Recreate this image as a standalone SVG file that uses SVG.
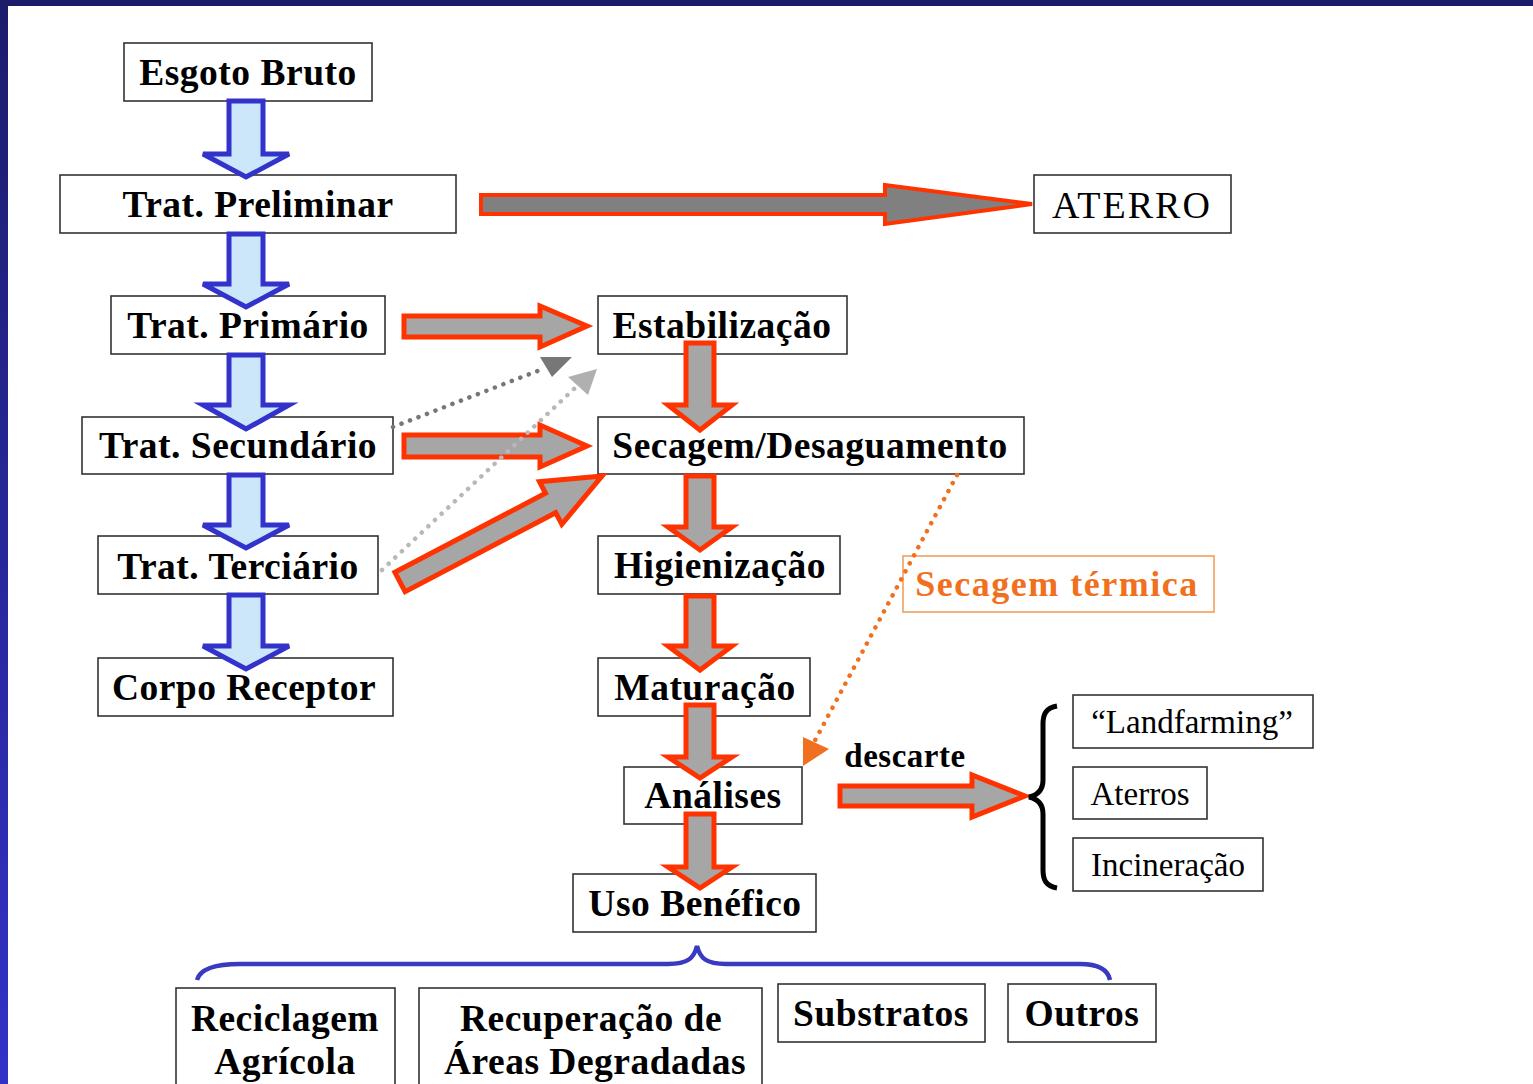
<svg xmlns="http://www.w3.org/2000/svg" width="1533" height="1084" viewBox="0 0 1533 1084">
<defs>
<linearGradient id="lb" x1="0" y1="0" x2="0" y2="1">
<stop offset="0" stop-color="#1c1c6c"/>
<stop offset="1" stop-color="#3232c8"/>
</linearGradient>
<style>
.box{fill:#fff;stroke:#333;stroke-width:1.6}
.t{font-family:"Liberation Serif","Times New Roman",serif;font-size:37.5px;font-weight:bold;fill:#000;text-anchor:middle;letter-spacing:0.5px}
.r{font-family:"Liberation Serif","Times New Roman",serif;font-size:33px;fill:#000;text-anchor:middle}
.blue{fill:#cce6fa;stroke:#3333cc;stroke-width:5;stroke-linejoin:miter}
.red{fill:#a6a6a6;stroke:#ff3300;stroke-width:5;stroke-linejoin:miter}
.dot{fill:none;stroke-width:4.5;stroke-linecap:round;stroke-dasharray:0.1 9}
</style>
</defs>
<rect width="1533" height="1084" fill="#fff"/>
<rect x="0" y="0" width="1533" height="6" fill="#1c1c6c"/>
<rect x="0" y="0" width="8" height="1084" fill="url(#lb)"/>

<g id="esgoto-bruto"><rect class="box" x="124" y="43" width="248" height="58"/><text class="t" x="248" y="85">Esgoto Bruto</text></g>
<g id="trat-preliminar"><rect class="box" x="60" y="175" width="396" height="58"/><text class="t" x="258" y="217">Trat. Preliminar</text></g>
<g id="trat-primario"><rect class="box" x="111" y="296" width="274" height="58"/><text class="t" x="248" y="338">Trat. Primário</text></g>
<g id="trat-secundario"><rect class="box" x="82" y="417" width="311" height="57"/><text class="t" x="238" y="458">Trat. Secundário</text></g>
<g id="trat-terciario"><rect class="box" x="98" y="536" width="280" height="58"/><text class="t" x="238" y="579">Trat. Terciário</text></g>
<g id="corpo-receptor"><rect class="box" x="98" y="658" width="295" height="58"/><text class="t" x="244" y="700">Corpo Receptor</text></g>

<g id="aterro"><rect class="box" x="1034" y="175" width="197" height="58"/><text class="r" x="1132" y="218" style="font-size:38px;letter-spacing:2px">ATERRO</text></g>

<g id="estabilizacao"><rect class="box" x="598" y="296" width="249" height="58"/><text class="t" x="722" y="338">Estabilização</text></g>
<g id="secagem-desaguamento"><rect class="box" x="598" y="417" width="426" height="57"/><text class="t" x="810" y="458">Secagem/Desaguamento</text></g>
<g id="higienizacao"><rect class="box" x="598" y="536" width="242" height="58"/><text class="t" x="720" y="578">Higienização</text></g>
<g id="maturacao"><rect class="box" x="598" y="658" width="212" height="58"/><text class="t" x="705" y="700">Maturação</text></g>
<g id="analises"><rect class="box" x="624" y="767" width="178" height="57"/><text class="t" x="713" y="808">Análises</text></g>
<g id="uso-benefico"><rect class="box" x="573" y="874" width="243" height="58"/><text class="t" x="695" y="916">Uso Benéfico</text></g>

<g id="secagem-termica"><rect x="903" y="556" width="311" height="56" fill="#fff" stroke="#f0a060" stroke-width="1.6"/><text class="t" x="1057" y="596" style="fill:#f07020;font-size:36px;letter-spacing:1.5px">Secagem térmica</text></g>
<g id="descarte"><text class="t" x="905" y="767" style="font-size:33px">descarte</text></g>

<g id="landfarming"><rect class="box" x="1073" y="695" width="240" height="53"/><text class="r" x="1192" y="733">“Landfarming”</text></g>
<g id="aterros"><rect class="box" x="1073" y="767" width="134" height="52"/><text class="r" x="1140" y="805">Aterros</text></g>
<g id="incineracao"><rect class="box" x="1073" y="838" width="190" height="53"/><text class="r" x="1168" y="876">Incineração</text></g>

<g id="reciclagem-agricola"><rect class="box" x="176" y="988" width="219" height="110"/><text class="t" x="285" y="1031">Reciclagem</text><text class="t" x="285" y="1074">Agrícola</text></g>
<g id="recuperacao"><rect class="box" x="419" y="988" width="343" height="110"/><text class="t" x="591" y="1031">Recuperação de</text><text class="t" x="595" y="1074">Áreas Degradadas</text></g>
<g id="substratos"><rect class="box" x="778" y="984" width="207" height="58"/><text class="t" x="881" y="1026">Substratos</text></g>
<g id="outros"><rect class="box" x="1008" y="984" width="148" height="58"/><text class="t" x="1082" y="1026">Outros</text></g>

<g id="connectors">
<polygon class="blue" points="229,101 263,101 263,154 289,154 246,177 203,154 229,154"/>
<polygon class="blue" points="229,234 263,234 263,284 289,284 246,307 203,284 229,284"/>
<polygon class="blue" points="229,355 263,355 263,405 289,405 246,429 203,405 229,405"/>
<polygon class="blue" points="229,475 263,475 263,525 289,525 246,548 203,525 229,525"/>
<polygon class="blue" points="229,595 263,595 263,646 289,646 246,669 203,646 229,646"/>
<polygon class="red" points="686,343 714,343 714,405 732,405 700,430 668,405 686,405"/>
<polygon class="red" points="686,476 714,476 714,527 732,527 700,550 668,527 686,527"/>
<polygon class="red" points="686,596 714,596 714,646 732,646 700,670 668,646 686,646"/>
<polygon class="red" points="686,705 714,705 714,757 732,757 700,778 668,757 686,757"/>
<polygon class="red" points="686,814 714,814 714,867 732,867 700,888 668,867 686,867"/>
<polygon class="red" points="404,316 540,316 540,306 587,326 540,347 540,337 404,337"/>
<polygon class="red" points="404,435 540,435 540,425 587,446 540,467 540,457 404,457"/>
<polygon class="red" points="394.9,572.3 545.5,493.3 539.5,481.7 602,476 561.8,524.3 555.7,512.7 405.1,591.7"/>
<polygon class="red" points="840,786 972,786 972,775 1025,796 972,817 972,806 840,806"/>
<polygon fill="#808080" stroke="#ff3300" stroke-width="4" points="481,195 885,195 885,185 1032,204 885,224 885,214 481,214"/>
<line class="dot" stroke="#777" x1="393" y1="427" x2="540" y2="370"/>
<polygon fill="#777" points="540,357 572,357 552,377"/>
<line class="dot" stroke="#b8b8b8" x1="382" y1="570" x2="575" y2="388"/>
<polygon fill="#b0b0b0" points="568,377 597,369 588,395"/>
<line class="dot" stroke="#f07020" x1="957" y1="475" x2="812" y2="746"/>
<polygon fill="#f07020" points="803,737 829,749 803,766"/>
<path d="M1057,706 C1046,708 1043,714 1043,724 L1043,780 C1043,790 1038,795 1029,797 C1038,799 1043,804 1043,814 L1043,870 C1043,880 1046,886 1057,888" fill="none" stroke="#000" stroke-width="5"/>
<path d="M197,980 C200,969 214,964 240,964 L668,964 C688,964 694,958 697,946 C700,958 706,964 726,964 L1080,964 C1100,964 1108,970 1110,980" fill="none" stroke="#3a3ac0" stroke-width="4.5"/>
</g>
</svg>
